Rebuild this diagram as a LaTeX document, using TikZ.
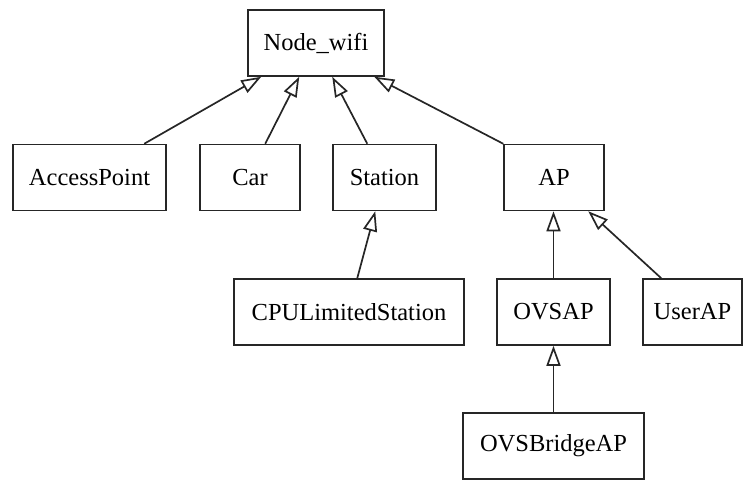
\documentclass[tikz,border=0pt]{standalone}
\usepackage{fontspec}
\setmainfont{Liberation Serif}
\usetikzlibrary{arrows.meta}
\begin{document}
\begin{tikzpicture}[x=1pt,y=-1pt,
  cls/.style={draw=black!85, line width=1.5pt, inner sep=0pt, minimum height=66pt,
    font=\fontsize{24.5}{28}\selectfont},
  inh/.style={line width=1.7pt, draw=black!85, -{Triangle[open,length=20pt,width=14pt]}}]
\useasboundingbox (0,0) rectangle (744,480);
\node[cls, minimum width=136pt] (wifi) at (316,43) {Node\_wifi};
\node[cls, minimum width=153pt] (accp) at (89.5,177.5) {AccessPoint};
\node[cls, minimum width=100pt] (car) at (250,177.5) {Car};
\node[cls, minimum width=103pt] (sta) at (384.5,177.5) {Station};
\node[cls, minimum width=100pt] (ap) at (554,177.5) {AP};
\node[cls, minimum width=230pt] (cpu) at (349,312) {CPULimitedStation};
\node[cls, minimum width=113pt] (ovsap) at (553.5,312) {OVSAP};
\node[cls, minimum width=99pt] (user) at (692.5,312) {UserAP};
\node[cls, minimum width=181pt] (obr) at (553.5,446) {OVSBridgeAP};
\draw[inh] ([xshift=132pt]accp.north west) -- ([xshift=14pt]wifi.south west);
\draw[inh] ([xshift=66pt]car.north west) -- ([xshift=52pt]wifi.south west);
\draw[inh] ([xshift=35pt]sta.north west) -- ([xshift=85pt]wifi.south west);
\draw[inh] (ap.north west) -- ([xshift=127pt]wifi.south west);
\draw[inh] ([xshift=124pt]cpu.north west) -- ([xshift=43pt]sta.south west);
\draw[inh] (ovsap.north) -- (ovsap.north |- ap.south);
\draw[inh] ([xshift=19pt]user.north west) -- ([xshift=85pt]ap.south west);
\draw[inh] (obr.north) -- (obr.north |- ovsap.south);
\end{tikzpicture}
\end{document}
